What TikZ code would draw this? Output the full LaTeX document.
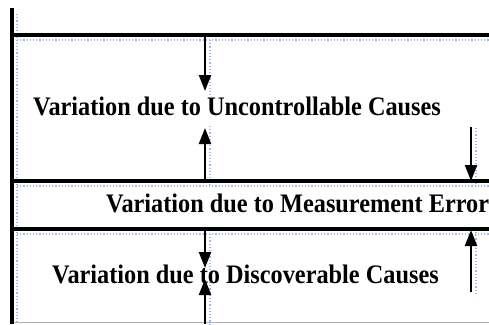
\documentclass[tikz,border=0pt]{standalone}
\usepackage{fontspec}
\usepackage{graphicx}
\setmainfont{Liberation Serif}
\usetikzlibrary{arrows.meta}
\definecolor{guide}{RGB}{160,185,230}
\newcommand{\tallbold}[1]{\scalebox{1}[1.1]{\fontsize{24.3}{28}\selectfont\bfseries #1}}
\tikzset{
  rule/.style={line width=3.2pt, black},
  arr/.style={line width=2.3pt, black, -{Triangle[width=12pt,length=16pt]}},
  guideline/.style={guide, line width=1.2pt, dotted},
  label/.style={anchor=base west, inner sep=0pt},
}
\begin{document}
\begin{tikzpicture}[x=1pt,y=-1pt]
\useasboundingbox (0,0) rectangle (489,324);
\clip (0,0) rectangle (489,324);
% guide (dotted) lines
\draw[guideline] (17,14) -- (17,324);
\draw[guideline] (17,40) -- (489,40);
\draw[guideline] (17,186) -- (489,186);
\draw[guideline] (17,234) -- (489,234);
\draw[guideline] (210,40) -- (210,95);
\draw[guideline] (210,126) -- (210,186);
\draw[guideline] (476,128) -- (476,186);
\draw[guideline] (476,232) -- (476,296);
\draw[guideline] (210,234) -- (210,324);
% bottom grey line
\draw[gray!60, line width=0.8pt] (12,322) -- (489,322);
% main rules
\coordinate (L0) at (12,8);
\coordinate (L1) at (12,324);
\coordinate (H1a) at (12,35);  \coordinate (H1b) at (489,35);
\coordinate (H2a) at (12,181); \coordinate (H2b) at (489,181);
\coordinate (H3a) at (12,229); \coordinate (H3b) at (489,229);
\draw[rule] (L0) -- (L1);
\draw[rule] (H1a) -- (H1b);
\draw[rule] (H2a) -- (H2b);
\draw[rule] (H3a) -- (H3b);
% arrows
\coordinate (a1s) at (205,35);  \coordinate (a1e) at (205,91);
\coordinate (a2s) at (205,181); \coordinate (a2e) at (205,128);
\coordinate (a3s) at (471,127); \coordinate (a3e) at (471,181);
\coordinate (a4s) at (471,292); \coordinate (a4e) at (471,230);
\coordinate (a5s) at (205,229); \coordinate (a5e) at (205,268);
\coordinate (a6s) at (205,324); \coordinate (a6e) at (205,279);
\draw[arr] (a1s) -- (a1e);
\draw[arr] (a2s) -- (a2e);
\draw[arr] (a3s) -- (a3e);
\draw[arr] (a4s) -- (a4e);
\draw[arr] (a5s) -- (a5e);
\draw[arr] (a6s) -- (a6e);
% texts
\node[label] (t1) at (33,115.5) {\tallbold{Variation due to Uncontrollable Causes}};
\node[label] (t2) at (106,212.5) {\tallbold{Variation due to Measurement Error}};
\node[label] (t3) at (52,283.5) {\tallbold{Variation due to Discoverable Causes}};
\end{tikzpicture}
\end{document}
